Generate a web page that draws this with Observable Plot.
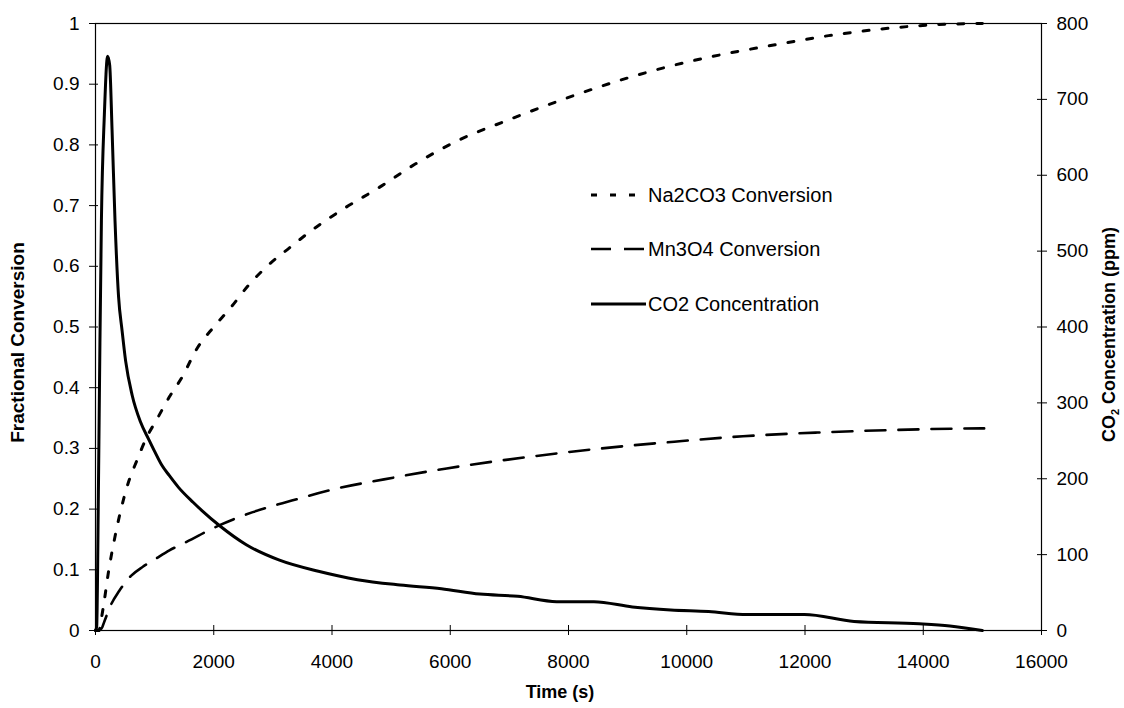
<!DOCTYPE html>
<html>
<head>
<meta charset="utf-8">
<script src="https://cdn.jsdelivr.net/npm/d3@7"></script>
<script src="https://cdn.jsdelivr.net/npm/@observablehq/plot@0.6"></script>
<style>
  body { margin: 0; background: #fff; }
  #chart { width: 1124px; height: 708px; }
</style>
</head>
<body>
<div id="chart"></div>
<script>
// ---- data ----
const na2co3Time = [0, 60, 100, 150, 225, 300, 420, 560, 700, 850, 1050, 1250, 1450, 1720, 2000, 2270, 2600, 2900, 3250, 3600, 4200, 4800, 5400, 6040, 6980, 7880, 8790, 9690, 10600, 11500, 12400, 13300, 14200, 15000];
const na2co3Conv = [0, 0, 0.02, 0.05, 0.10, 0.14, 0.195, 0.245, 0.28, 0.315, 0.35, 0.385, 0.415, 0.465, 0.50, 0.53, 0.57, 0.60, 0.628, 0.655, 0.695, 0.73, 0.768, 0.803, 0.841, 0.874, 0.904, 0.929, 0.949, 0.965, 0.98, 0.991, 0.998, 1.0];

const mn3o4Time = [0, 100, 150, 250, 400, 600, 800, 1000, 1250, 1540, 2100, 2660, 3320, 4040, 4880, 5940, 7330, 8560, 9790, 10950, 12180, 13380, 14580, 15030];
const mn3o4Conv = [0, 0.003, 0.015, 0.04, 0.065, 0.09, 0.105, 0.117, 0.132, 0.146, 0.1735, 0.195, 0.214, 0.233, 0.249, 0.267, 0.286, 0.30, 0.311, 0.32, 0.326, 0.33, 0.3326, 0.333];

const co2Time = [0, 20, 50, 75, 100, 150, 205, 240, 280, 330, 390, 450, 510, 620, 760, 900, 1000, 1120, 1250, 1400, 1650, 1800, 2100, 2550, 3100, 3770, 4430, 5150, 5850, 6500, 7140, 7800, 8430, 9080, 9730, 10370, 11020, 11990, 12830, 13930, 14450, 15000];
const co2Ppm = [0, 5, 190, 380, 540, 680, 757, 745, 660, 540, 440, 395, 355, 310, 275, 252, 236, 218, 204, 189, 169, 158, 138, 113, 93, 78, 67, 60, 55, 48, 45, 38, 38, 31, 27, 25, 21, 21, 12, 9, 6, 0];

const seriesNames = ["Na2CO3 Conversion", "Mn3O4 Conversion", "CO2 Concentration"];
const xTicks = [0, 2000, 4000, 6000, 8000, 10000, 12000, 14000, 16000];
const leftTicks = [0, 0.1, 0.2, 0.3, 0.4, 0.5, 0.6, 0.7, 0.8, 0.9, 1];
const rightTicks = [0, 100, 200, 300, 400, 500, 600, 700, 800];
const ppmMax = 800;

// ---- build tables ----
const naRows = na2co3Time.map((t, i) => ({t, v: na2co3Conv[i]}));
const mnRows = mn3o4Time.map((t, i) => ({t, v: mn3o4Conv[i]}));
const co2Rows = co2Time.map((t, i) => ({t, ppm: co2Ppm[i]}));

const FONT = "'Liberation Sans', Arial, Helvetica, sans-serif";
const dotDash = "6,13";
const longDash = "20,13";

const chart = Plot.plot({
  width: 1124,
  height: 708,
  marginTop: 23,
  marginBottom: 78,
  marginLeft: 95,
  marginRight: 83,
  style: {fontFamily: FONT, fontSize: "19px", color: "#000", background: "#fff", overflow: "visible"},
  x: {domain: [0, 16000]},
  y: {domain: [0, 1]},
  marks: [
    Plot.frame({stroke: "#000", strokeWidth: 1.2}),
    Plot.line(naRows, {x: "t", y: "v", stroke: "#000", strokeWidth: 3, strokeDasharray: dotDash, curve: "monotone-x"}),
    Plot.line(mnRows, {x: "t", y: "v", stroke: "#000", strokeWidth: 2.6, strokeDasharray: longDash, curve: "monotone-x"}),
    Plot.line(co2Rows, {x: "t", y: d => d.ppm / ppmMax, stroke: "#000", strokeWidth: 3, curve: "monotone-x"}),
    // bottom axis: crossing ticks + labels
    Plot.axisX({ticks: xTicks, tickSize: 10, dy: -5, tickFormat: () => "", label: null}),
    Plot.axisX({ticks: xTicks, tickSize: 0, tickPadding: 24, tickFormat: d => String(d), label: null}),
    // left axis
    Plot.axisY({ticks: leftTicks, tickSize: 9, dx: 3, tickFormat: () => "", label: null}),
    Plot.axisY({ticks: leftTicks, tickSize: 0, tickPadding: 16, tickFormat: d => String(+d.toFixed(1)), label: null}),
    // right axis (ppm)
    Plot.axisY({anchor: "right", ticks: rightTicks.map(v => v / ppmMax), tickSize: 10, dx: -5, tickFormat: () => "", label: null}),
    Plot.axisY({anchor: "right", ticks: rightTicks.map(v => v / ppmMax), tickSize: 0, tickPadding: 15, tickFormat: d => String(Math.round(d * ppmMax)), label: null})
  ]
});

document.getElementById("chart").appendChild(chart);

// ---- axis titles and legend ----
const svgSel = d3.select(chart);
const xsc = chart.scale("x"), ysc = chart.scale("y");
const plotLeft = xsc.range[0], plotRight = xsc.range[1];
const plotTop = ysc.range[1], plotBottom = ysc.range[0];

svgSel.append("text")
  .attr("x", (plotLeft + plotRight) / 2 - 8).attr("y", 698)
  .attr("text-anchor", "middle")
  .style("font-family", FONT).style("font-size", "18px").style("font-weight", "bold")
  .text("Time (s)");

svgSel.append("text")
  .attr("transform", `translate(24,${(plotTop + plotBottom) / 2 + 16}) rotate(-90)`)
  .attr("text-anchor", "middle")
  .style("font-family", FONT).style("font-size", "19px").style("font-weight", "bold")
  .text("Fractional Conversion");

const rTitle = svgSel.append("text")
  .attr("transform", `translate(1115,${(plotTop + plotBottom) / 2 + 8}) rotate(-90)`)
  .attr("text-anchor", "middle")
  .style("font-family", FONT).style("font-size", "18px").style("font-weight", "bold");
rTitle.append("tspan").text("CO");
rTitle.append("tspan").attr("dy", 4).style("font-size", "11px").text("2");
rTitle.append("tspan").attr("dy", -4).text(" Concentration (ppm)");

const legendRows = [
  {name: seriesNames[0], dash: dotDash, w: 3, y: 195},
  {name: seriesNames[1], dash: longDash, w: 2.6, y: 249},
  {name: seriesNames[2], dash: null, w: 3, y: 304}
];
const lg = svgSel.append("g");
legendRows.forEach(r => {
  lg.append("line")
    .attr("x1", 591).attr("x2", 646).attr("y1", r.y).attr("y2", r.y)
    .attr("stroke", "#000").attr("stroke-width", r.w)
    .attr("stroke-dasharray", r.dash);
  lg.append("text")
    .attr("x", 648).attr("y", r.y + 7)
    .attr("text-anchor", "start")
    .style("font-family", FONT).style("font-size", "20px")
    .text(r.name);
});
</script>
</body>
</html>
